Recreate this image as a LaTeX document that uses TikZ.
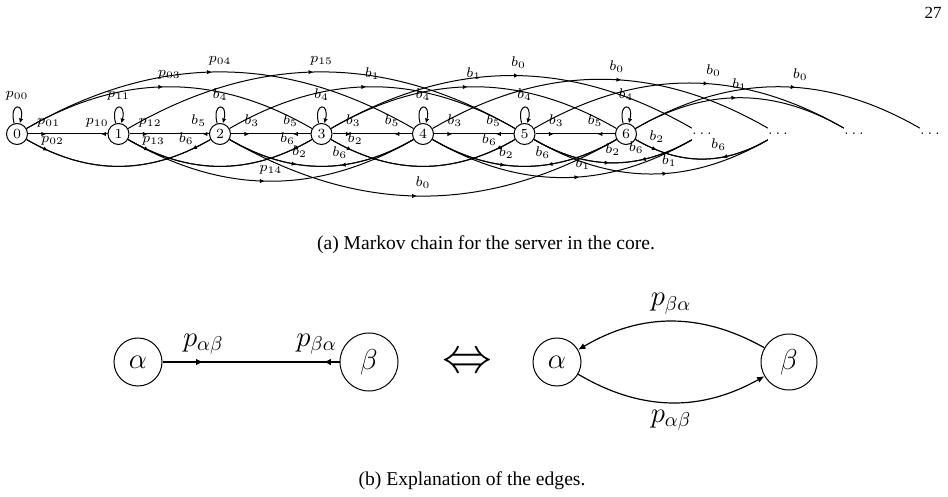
\documentclass[tikz,border=0pt]{standalone}
\usepackage{fontspec}
\newfontfamily\timesfont{Liberation Serif}
\usetikzlibrary{arrows.meta,decorations.markings}
\begin{document}
\tikzset{
  every loop/.style={},
  st/.style={circle,draw,line width=0.5pt,minimum size=10.5pt,inner sep=0pt,font=\fontsize{7}{8}\selectfont},
  dt/.style={rectangle,inner sep=0pt,minimum width=9pt,minimum height=6pt,font=\fontsize{7}{8}\selectfont},
  ed/.style={line width=0.5pt},
  lb/.style={above,font=\fontsize{7}{8}\selectfont},
  tipa/.tip={Latex[length=2.4pt,width=2.2pt]},
  tipb/.tip={Latex[length=3.6pt,width=3.2pt]},
  mk/.style={postaction={decorate,decoration={markings,mark=at position #1 with {\arrow{tipa}}}}},
  mkb/.style={postaction={decorate,decoration={markings,mark=at position #1 with {\arrow{tipb}}}}},
  bst/.style={circle,draw,line width=0.5pt,inner sep=0pt,font=\fontsize{14}{16}\selectfont},
  bed/.style={line width=0.6pt},
  blb/.style={font=\fontsize{14}{16}\selectfont},
  captext/.style={font=\timesfont\fontsize{9.8}{11}\selectfont},
}
\begin{tikzpicture}[x=0.5pt,y=0.5pt]
\useasboundingbox (0,0) rectangle (948,-497);
% page number
\node[font=\timesfont\fontsize{8.5}{10}\selectfont] (pg) at (933,-13) {27};
% states
\node[st] (n0) at (17,-134) {0};
\node[st] (n1) at (118.5,-134) {1};
\node[st] (n2) at (220,-134) {2};
\node[st] (n3) at (321.5,-134) {3};
\node[st] (n4) at (423,-134) {4};
\node[st] (n5) at (524.5,-134) {5};
\node[st] (n6) at (626,-134) {6};
\node[dt] (d7) at (702,-134) {$\ldots$};
\node[dt] (d8) at (778,-134) {$\ldots$};
\node[dt] (d9) at (854,-134) {$\ldots$};
\node[dt] (d10) at (930,-134) {$\ldots$};
% self loops
\draw[ed,-tipa] (n0) to[loop above,min distance=11pt] node[lb]{$p_{00}$} (n0);
\draw[ed,-tipa] (n1) to[loop above,min distance=11pt] node[lb]{$p_{11}$} (n1);
\draw[ed,-tipa] (n2) to[loop above,min distance=11pt] node[lb]{$b_{4}$} (n2);
\draw[ed,-tipa] (n3) to[loop above,min distance=11pt] node[lb]{$b_{4}$} (n3);
\draw[ed,-tipa] (n4) to[loop above,min distance=11pt] node[lb]{$b_{4}$} (n4);
\draw[ed,-tipa] (n5) to[loop above,min distance=11pt] node[lb]{$b_{4}$} (n5);
\draw[ed,-tipa] (n6) to[loop above,min distance=11pt] node[lb]{$b_{4}$} (n6);
% neighbours
\draw[ed,mk=0.23] (n0) -- node[lb,pos=0.26]{$p_{01}$} (n1);
\draw[ed,mk=0.08] (n1) -- node[lb,pos=0.13]{$p_{10}$} (n0);
\draw[ed,mk=0.23] (n1) -- node[lb,pos=0.26]{$p_{12}$} (n2);
\draw[ed,mk=0.08] (n2) -- node[lb,pos=0.13]{$b_{5}$} (n1);
\draw[ed,mk=0.23] (n2) -- node[lb,pos=0.26]{$b_{3}$} (n3);
\draw[ed,mk=0.22] (n3) -- node[lb,pos=0.25]{$b_{5}$} (n2);
\draw[ed,mk=0.23] (n3) -- node[lb,pos=0.26]{$b_{3}$} (n4);
\draw[ed,mk=0.22] (n4) -- node[lb,pos=0.25]{$b_{5}$} (n3);
\draw[ed,mk=0.23] (n4) -- node[lb,pos=0.26]{$b_{3}$} (n5);
\draw[ed,mk=0.22] (n5) -- node[lb,pos=0.25]{$b_{5}$} (n4);
\draw[ed,mk=0.23] (n5) -- node[lb,pos=0.26]{$b_{3}$} (n6);
\draw[ed,mk=0.22] (n6) -- node[lb,pos=0.25]{$b_{5}$} (n5);
% distance two (below)
\draw[ed,mk=0.125] (n0) to[bend right] node[lb,pos=0.14]{$p_{02}$} (n2);
\draw[ed,mk=0.107] (n2) to[bend left] node[lb,pos=0.13]{$b_{6}$} (n0);
\draw[ed,mk=0.122] (n1) to[bend right] node[lb,pos=0.137]{$p_{13}$} (n3);
\draw[ed,mk=0.11] (n3) to[bend left] node[lb,pos=0.132]{$b_{6}$} (n1);
\draw[ed,mk=0.37] (n2) to[bend right] node[lb,pos=0.38]{$b_{2}$} (n4);
\draw[ed,mk=0.40] (n4) to[bend left] node[lb,pos=0.40]{$b_{6}$} (n2);
\draw[ed,mk=0.12] (n3) to[bend right] node[lb,pos=0.13]{$b_{2}$} (n5);
\draw[ed,mk=0.11] (n5) to[bend left] node[lb,pos=0.138]{$b_{6}$} (n3);
\draw[ed,mk=0.40] (n4) to[bend right] node[lb,pos=0.40]{$b_{2}$} (n6);
\draw[ed,mk=0.38] (n6) to[bend left] node[lb,pos=0.40]{$b_{6}$} (n4);
\draw[ed,mk=0.48] (n5) to[bend right] node[lb,pos=0.50]{$b_{2}$} (d7);
\draw[ed,mk=0.33] (d7) to[bend left] node[lb,pos=0.35]{$b_{6}$} (n5);
\draw[ed,mk=0.17] (n6) to[bend right] node[lb,pos=0.16]{$b_{2}$} (d8);
\draw[ed,mk=0.35] (d8) to[bend left] node[lb,pos=0.37]{$b_{6}$} (n6);
% long jumps above
\draw[ed,mk=0.48] (n0) to[bend left] node[lb,pos=0.50]{$p_{03}$} (n3);
\draw[ed,mk=0.48] (n0) to[bend left] node[lb,pos=0.50]{$p_{04}$} (n4);
\draw[ed,mk=0.48] (n1) to[bend left] node[lb,pos=0.50]{$p_{15}$} (n5);
\draw[ed,mk=0.48] (n2) to[bend left] node[lb,pos=0.50]{$b_{1}$} (n5);
\draw[ed,mk=0.48] (n3) to[bend left] node[lb,pos=0.50]{$b_{1}$} (n6);
\draw[ed,mk=0.52] (n3) to[bend left] node[lb,pos=0.52]{$b_{0}$} (d7);
\draw[ed,mk=0.56] (n4) to[bend left] node[lb,pos=0.55]{$b_{0}$} (d8);
\draw[ed,mk=0.56] (n5) to[bend left] node[lb,pos=0.58]{$b_{0}$} (d9);
\draw[ed,mk=0.485] (n6) to[bend left] node[lb,pos=0.50]{$b_{1}$} (d9);
\draw[ed,mk=0.56] (n6) to[bend left] node[lb,pos=0.58]{$b_{0}$} (d10);
% long jumps below
\draw[ed,mk=0.48] (n1) to[bend right] node[lb,pos=0.50]{$p_{14}$} (n4);
\draw[ed,mk=0.485] (n2) to[bend right] node[lb,pos=0.50]{$b_{0}$} (n6);
\draw[ed,mk=0.563] (n4) to[bend right] node[lb,pos=0.58]{$b_{1}$} (d7);
\draw[ed,mk=0.567] (n5) to[bend right] node[lb,pos=0.58]{$b_{1}$} (d8);
% caption a
\node[captext] (capa) at (486,-245) {(a) Markov chain for the server in the core.};
% part b, left
\node[bst,minimum size=24pt] (a1) at (138,-362) {$\alpha$};
\node[bst,minimum size=29pt] (b1) at (369,-362) {$\beta$};
\draw[bed,mkb=0.23] (a1) -- node[blb,above,pos=0.23]{$p_{\alpha\beta}$} (b1);
\draw[bed,mkb=0.09] (b1) -- node[blb,above,pos=0.13]{$p_{\beta\alpha}$} (a1);
\node[font=\fontsize{24}{24}\selectfont] (eqv) at (467,-363) {$\Leftrightarrow$};
% part b, right
\node[bst,minimum size=24pt] (a2) at (557,-362) {$\alpha$};
\node[bst,minimum size=28pt] (b2) at (789,-362) {$\beta$};
\draw[bed,-tipb] (b2) to[bend right] node[blb,above]{$p_{\beta\alpha}$} (a2);
\draw[bed,-tipb] (a2) to[bend right] node[blb,below]{$p_{\alpha\beta}$} (b2);
\node[captext] (capb) at (472,-481) {(b) Explanation of the edges.};
\end{tikzpicture}
\end{document}
